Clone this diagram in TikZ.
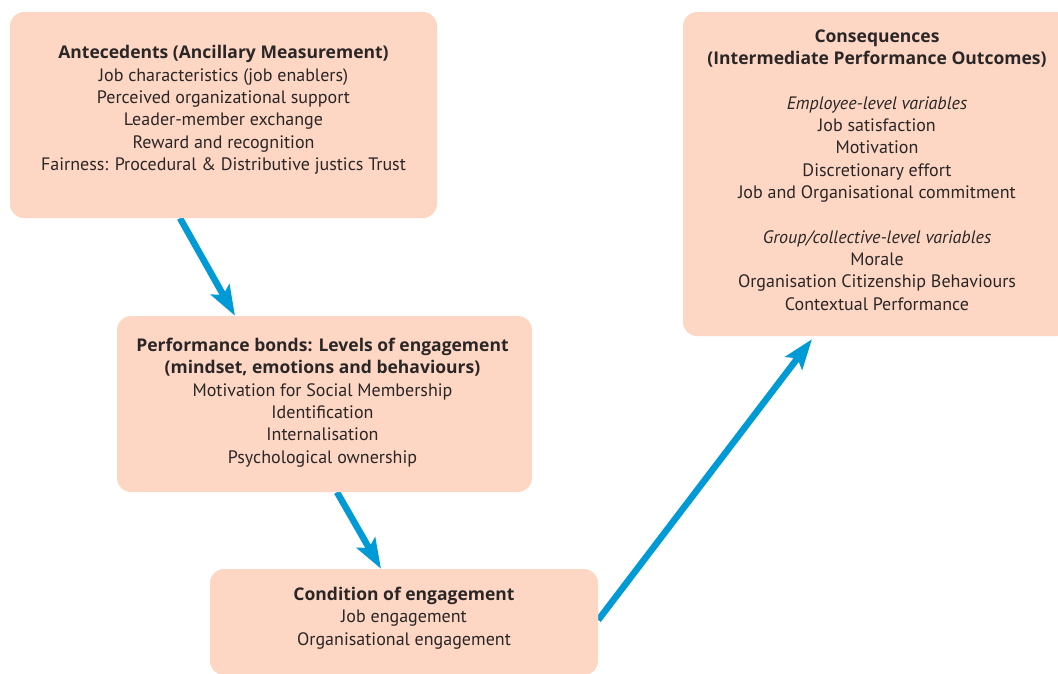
\documentclass[tikz,border=0pt]{standalone}
\usepackage{fontspec}
\setmainfont{PT Sans}
\newfontfamily\headfont{Open Sans}
\usepackage{xcolor}
\usetikzlibrary{arrows.meta}
\usetikzlibrary{backgrounds}
\definecolor{peach}{HTML}{FDD7C3}
\definecolor{flowblue}{HTML}{009BD7}
\definecolor{inktext}{HTML}{2A2627}
\newcommand{\boxhead}[1]{{\headfont\bfseries\fontsize{17.5}{22.3}\selectfont #1}}
\tikzset{
    box_node/.style = {rectangle, rounded corners=14pt, fill=peach, draw=none, inner sep=0pt},
    box_text/.style = {align=center, inner sep=0pt, text=inktext, font=\fontsize{18}{22.3}\selectfont},
    flow_arrow/.style = {draw=flowblue, line width=6.5pt, -{Stealth[length=30pt, width=21pt, inset=6pt]}}
}

\begin{document}
\begin{tikzpicture}[x=1pt, y=-1pt]
    \useasboundingbox (0,0) rectangle (1058,673);
    \clip (0,0) rectangle (1058,673);

    % boxes
    \node [box_node, minimum width=427pt, minimum height=206pt] (ante) at (223.5,115) {};
    \node [box_node, minimum width=388pt, minimum height=324pt] (cons) at (877,174) {};
    \node [box_node, minimum width=415pt, minimum height=176pt] (perf) at (324.5,404) {};
    \node [box_node, minimum width=388pt, minimum height=106pt] (cond) at (404,622) {};

    % texts
    \node [box_text] (ante_text) at ([yshift=5pt]ante.center) {
        \boxhead{Antecedents (Ancillary Measurement)}\\
        Job characteristics (job enablers)\\
        Perceived organizational support\\
        Leader-member exchange\\
        Reward and recognition\\
        Fairness: Procedural \& Distributive justics Trust
    };
    \node [box_text] (cons_text) at ([yshift=4pt]cons.center) {
        \boxhead{Consequences}\\
        \boxhead{(Intermediate Performance Outcomes)}\\[22.3pt]
        \textit{Employee-level variables}\\
        Job satisfaction\\
        Motivation\\
        Discretionary effort\\
        Job and Organisational commitment\\[22.3pt]
        \textit{Group/collective-level variables}\\
        Morale\\
        Organisation Citizenship Behaviours\\
        Contextual Performance
    };
    \node [box_text] (perf_text) at ([xshift=-2pt, yshift=1.5pt]perf.center) {
        \boxhead{Performance bonds: Levels of engagement}\\
        \boxhead{(mindset, emotions and behaviours)}\\
        Motivation for Social Membership\\
        Identification\\
        Internalisation\\
        Psychological ownership
    };
    \node [box_text] (cond_text) at ([yshift=4pt]cond.center) {
        \boxhead{Condition of engagement}\\
        Job engagement\\
        Organisational engagement
    };

    % arrows
    \begin{scope}[on background layer]
        \draw [flow_arrow] ([xshift=-43.5pt]ante.south) -- ([xshift=-89.5pt]perf.north);
        \draw [flow_arrow] ([xshift=12.5pt]perf.south) -- ([xshift=-23pt]cond.north);
        \draw [flow_arrow] ([yshift=2pt]cond.east) -- ([xshift=-65pt, yshift=-3pt]cons.south);
    \end{scope}
\end{tikzpicture}
\end{document}
